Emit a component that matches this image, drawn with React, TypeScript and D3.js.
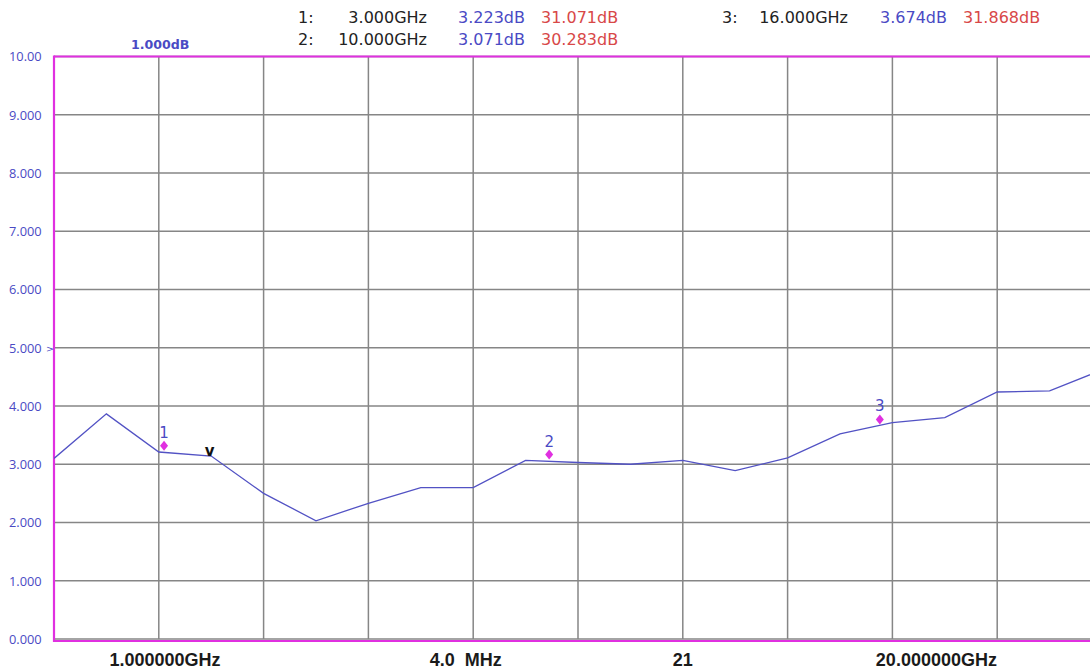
import React from "react";
import * as d3 from "d3";

const traceValues: number[] = [3.1, 3.865, 3.21, 3.14, 2.5, 2.03, 2.33, 2.6, 2.6, 3.065, 3.03, 3.0, 3.065, 2.89, 3.11, 3.52, 3.715, 3.8, 4.24, 4.26, 4.62];
const yTickValues: number[] = [0, 1, 2, 3, 4, 5, 6, 7, 8, 9, 10];
const yTickLabels: string[] = ["0.000", "1.000", "2.000", "3.000", "4.000", "5.000", "6.000", "7.000", "8.000", "9.000", "10.00"];
const xGridDivisions: number[] = [0, 1, 2, 3, 4, 5, 6, 7, 8, 9, 10];
const bottomLabels: string[] = ["1.000000GHz", "4.0  MHz", "21", "20.000000GHz"];
const bottomLabelPos: number[] = [1.06, 3.93, 6.0, 8.42];
const markerIds: string[] = ["1", "2", "3"];
const markerIndex: number[] = [2.1, 9.45, 15.76];
const markerValues: number[] = [3.223, 3.071, 3.674];
const markerFreqs: string[] = ["3.000GHz", "10.000GHz", "16.000GHz"];
const markerDb1: string[] = ["3.223dB", "3.071dB", "3.674dB"];
const markerDb2: string[] = ["31.071dB", "30.283dB", "31.868dB"];

const W = 1090;
const H = 671;
const MAGENTA = "#e030e0";
const GRID = "#868686";
const TRACE = "#5252c4";
const BLUE = "#4a4ac4";
const RED = "#d84848";

export default function App() {
  const left = 54;
  const right = 1102;
  const top = 56.5;
  const bottom = 639;
  const xIdx = d3.scaleLinear().domain([0, traceValues.length - 1]).range([left, right]);
  const xDiv = d3.scaleLinear().domain([0, 10]).range([left, right]);
  const y = d3.scaleLinear().domain([0, 10]).range([bottom, top]);
  const line = d3
    .line<number>()
    .x((_, i) => xIdx(i))
    .y((d) => y(d));

  const headerRows = [
    { id: 0, xId: 298, xFreqEnd: 427, xDb1: 458, xDb2: 541, yb: 23 },
    { id: 1, xId: 298, xFreqEnd: 427, xDb1: 458, xDb2: 541, yb: 45 },
    { id: 2, xId: 722, xFreqEnd: 848, xDb1: 880, xDb2: 963, yb: 23 },
  ];

  return (
    <div style={{ position: "absolute", left: 0, top: 0 }}>
      <svg width={W} height={H} style={{ display: "block", background: "#fff" }}>
        <defs>
          <clipPath id="plotclip">
            <rect x={left} y={top - 2} width={W - left} height={bottom - top + 4} />
          </clipPath>
        </defs>
        {yTickValues.map((v) => (
          <line key={"h" + v} x1={left} x2={W} y1={y(v)} y2={y(v)} stroke={GRID} strokeWidth={1.5} />
        ))}
        {xGridDivisions.map((d) => (
          <line key={"v" + d} x1={xDiv(d)} x2={xDiv(d)} y1={top} y2={bottom} stroke={GRID} strokeWidth={1.5} />
        ))}
        <line x1={left} x2={W} y1={top} y2={top} stroke={MAGENTA} strokeWidth={2.2} />
        <line x1={left} x2={W} y1={bottom + 2} y2={bottom + 2} stroke={MAGENTA} strokeWidth={2} />
        <line x1={left} x2={left} y1={top - 1} y2={bottom + 3} stroke={MAGENTA} strokeWidth={2.2} />

        {yTickValues.map((v, i) => (
          <text
            key={"yt" + v}
            x={9}
            y={y(v) + 4.8}
            fontFamily="Open Sans"
            fontSize={12.8}
            fill={BLUE}
          >
            {yTickLabels[i]}
          </text>
        ))}
        <text x={46} y={y(5) + 4} fontFamily="DejaVu Sans" fontSize={9.5} fill={BLUE}>
          {">"}
        </text>

        <text x={131} y={49} fontFamily="DejaVu Sans" fontWeight="bold" fontSize={12.6} fill={BLUE}>
          1.000dB
        </text>

        <g clipPath="url(#plotclip)">
          <path d={line(traceValues) || ""} fill="none" stroke={TRACE} strokeWidth={1.3} />
        </g>

        {markerIds.map((m, i) => {
          const cx = xIdx(markerIndex[i]);
          const cy = y(markerValues[i]) - 5.5;
          return (
            <g key={"m" + m}>
              <path
                d={`M${cx},${cy - 5} L${cx + 4},${cy} L${cx},${cy + 5} L${cx - 4},${cy} Z`}
                fill={MAGENTA}
              />
              <text
                x={cx}
                y={cy - 8}
                textAnchor="middle"
                fontFamily="DejaVu Sans"
                fontSize={15}
                fill={BLUE}
              >
                {m}
              </text>
            </g>
          );
        })}
        <text
          x={xIdx(3) - 1.5}
          y={y(traceValues[3]) - 0.5}
          textAnchor="middle"
          fontFamily="DejaVu Sans"
          fontWeight="bold"
          fontSize={15}
          fill="#111"
        >
          v
        </text>

        {headerRows.map((r) => (
          <g key={"hr" + r.id} fontFamily="DejaVu Sans" fontSize={16}>
            <text x={r.xId} y={r.yb} fill="#222">
              {markerIds[r.id] + ":"}
            </text>
            <text x={r.xFreqEnd} y={r.yb} fill="#222" textAnchor="end">
              {markerFreqs[r.id]}
            </text>
            <text x={r.xDb1} y={r.yb} fill={BLUE}>
              {markerDb1[r.id]}
            </text>
            <text x={r.xDb2} y={r.yb} fill={RED}>
              {markerDb2[r.id]}
            </text>
          </g>
        ))}

        {bottomLabels.map((t, i) => (
          <text
            key={"bl" + i}
            x={xDiv(bottomLabelPos[i])}
            y={666}
            textAnchor="middle"
            fontFamily="Liberation Sans"
            fontWeight="bold"
            fontSize={18}
            fill="#1a1a1a"
            style={{ whiteSpace: "pre" }}
          >
            {t}
          </text>
        ))}
      </svg>
    </div>
  );
}
